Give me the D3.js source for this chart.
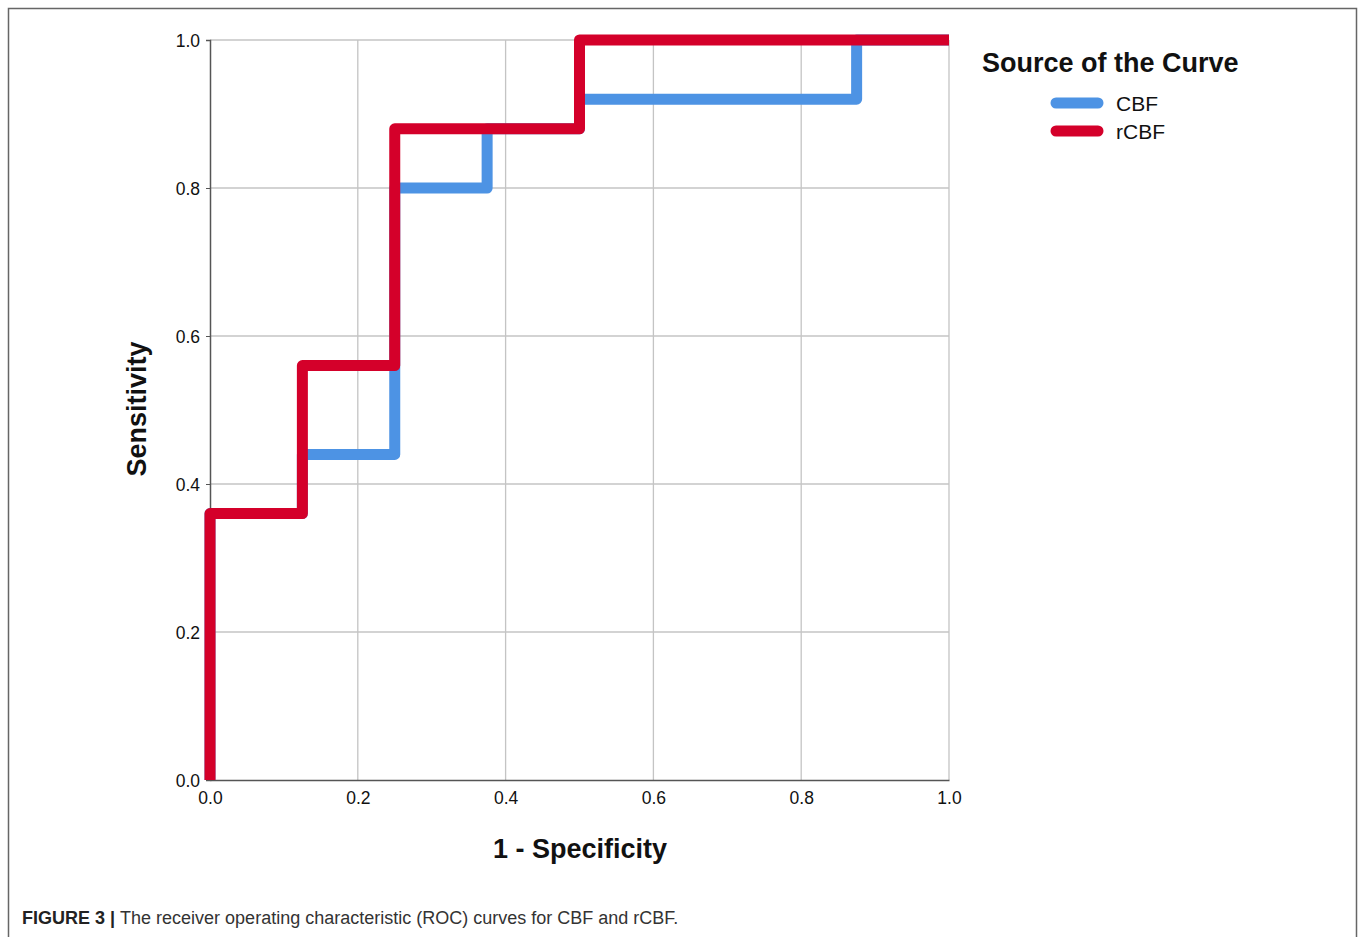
<!DOCTYPE html>
<html><head><meta charset="utf-8">
<script src="https://cdn.jsdelivr.net/npm/d3@7"></script>
<style>body{margin:0;background:#fff}svg{display:block}</style>
</head><body>
<svg id="c" width="1358" height="937"></svg>
<script>
const tickValues = [0, 0.2, 0.4, 0.6, 0.8, 1.0];
const seriesNames = ["CBF", "rCBF"];
const seriesColors = ["#4d93e4", "#d4002a"];
const cbfFpr = [0, 0, 0.125, 0.125, 0.25, 0.25, 0.375, 0.375, 0.5, 0.5, 0.875, 0.875, 1];
const cbfTpr = [0, 0.36, 0.36, 0.44, 0.44, 0.80, 0.80, 0.88, 0.88, 0.92, 0.92, 1, 1];
const rcbfFpr = [0, 0, 0.125, 0.125, 0.25, 0.25, 0.5, 0.5, 1];
const rcbfTpr = [0, 0.36, 0.36, 0.56, 0.56, 0.88, 0.88, 1, 1];

const svg = d3.select("#c");
const font = "Arial, 'Liberation Sans', sans-serif";
// frame
svg.append("path").attr("d","M8.5,940 V8.5 H1356.5 V940").attr("fill","none").attr("stroke","#666").attr("stroke-width",1.5);

const x = d3.scaleLinear().domain([0,1]).range([210,949]);
const y = d3.scaleLinear().domain([0,1]).range([780,40]);

const g = svg.append("g");
// gridlines
g.selectAll(".vg").data(tickValues.slice(1)).join("line")
  .attr("x1",d=>x(d)).attr("x2",d=>x(d)).attr("y1",y(0)).attr("y2",y(1))
  .attr("stroke","#c4c4c4").attr("stroke-width",1.3);
g.selectAll(".hg").data(tickValues.slice(1)).join("line")
  .attr("x1",x(0)).attr("x2",x(1)).attr("y1",d=>y(d)).attr("y2",d=>y(d))
  .attr("stroke","#c4c4c4").attr("stroke-width",1.3);

// axes
const xAxis = g.append("g").attr("transform",`translate(0,${y(0)})`)
  .call(d3.axisBottom(x).tickValues(tickValues).tickFormat(d3.format(".1f")).tickSize(0).tickPadding(12));
const yAxis = g.append("g").attr("transform",`translate(${x(0)},0)`)
  .call(d3.axisLeft(y).tickValues(tickValues).tickFormat(d3.format(".1f")).tickSize(4).tickPadding(6));
[xAxis,yAxis].forEach(a=>{
  a.select(".domain").attr("stroke","#555").attr("stroke-width",1.5);
  a.selectAll(".tick line").attr("stroke","#555");
  a.selectAll("text").attr("font-family",font).attr("font-size",17.5).attr("fill","#111");
});
xAxis.selectAll(".tick line").remove();
yAxis.selectAll("text").attr("dy","0.35em");

// lines
const line = d3.line().x(d=>x(d[0])).y(d=>y(d[1]));
const series = [d3.zip(cbfFpr,cbfTpr), d3.zip(rcbfFpr,rcbfTpr)];
series.forEach((s,i)=>{
  g.append("path").attr("d",line(s)).attr("fill","none")
   .attr("stroke",seriesColors[i]).attr("stroke-width",11)
   .attr("stroke-linejoin","round").attr("stroke-linecap","butt");
});

// axis titles
svg.append("text").attr("x",580).attr("y",858).attr("text-anchor","middle")
  .attr("font-family",font).attr("font-weight","bold").attr("font-size",27).attr("fill","#111").text("1 - Specificity");
svg.append("text").attr("transform","translate(146,409) rotate(-90)").attr("text-anchor","middle")
  .attr("font-family",font).attr("font-weight","bold").attr("font-size",27).attr("fill","#111").text("Sensitivity");

// legend
svg.append("text").attr("x",982).attr("y",72).attr("font-family",font).attr("font-weight","bold")
  .attr("font-size",27).attr("fill","#111").text("Source of the Curve");
seriesNames.forEach((n,i)=>{
  const yy = 103 + i*28;
  svg.append("line").attr("x1",1056).attr("x2",1098).attr("y1",yy).attr("y2",yy)
    .attr("stroke",seriesColors[i]).attr("stroke-width",11).attr("stroke-linecap","round");
  svg.append("text").attr("x",1116).attr("y",yy+8).attr("font-family",font).attr("font-size",21)
    .attr("fill","#111").text(n);
});

// caption
const cap = svg.append("text").attr("x",22).attr("y",924).attr("font-family",font).attr("font-size",18).attr("fill","#222");
cap.append("tspan").attr("font-weight","bold").text("FIGURE 3 | ");
cap.append("tspan").attr("fill","#333").text("The receiver operating characteristic (ROC) curves for CBF and rCBF.");
</script>
</body></html>
